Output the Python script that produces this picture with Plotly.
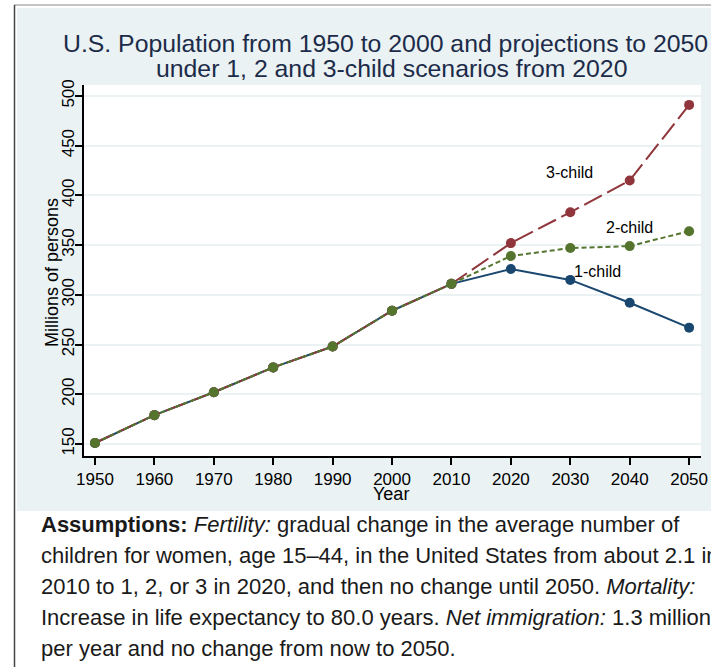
import plotly.graph_objects as go

# ---- data ----
years = [1950, 1960, 1970, 1980, 1990, 2000, 2010, 2020, 2030, 2040, 2050]
history = [151, 179, 202, 227, 248, 284, 311]
one_child_proj = [326, 315, 292, 267]
two_child_proj = [339, 347, 349, 364]
three_child_proj = [352, 383, 415, 491]
one_child = history + one_child_proj
two_child = history + two_child_proj
three_child = history + three_child_proj
x_ticks = [1950, 1960, 1970, 1980, 1990, 2000, 2010, 2020, 2030, 2040, 2050]
y_ticks = [150, 200, 250, 300, 350, 400, 450, 500]

NAVY = "#1A476F"
MAROON = "#90353B"
GREEN = "#55752F"
BG = "#EAF2F3"

# plot area in pixels
L, R, T, B = 84, 701, 85, 456
W, H = R - L, B - T


def px(x):
    return (x - L) / W


def py(y):
    return (B - y) / H


fig = go.Figure()

fig.add_trace(go.Scatter(x=years, y=one_child, mode="lines+markers", name="1-child",
                         line=dict(color=NAVY, width=2),
                         marker=dict(color=NAVY, size=10)))
fig.add_trace(go.Scatter(x=years, y=three_child, mode="lines+markers", name="3-child",
                         line=dict(color=MAROON, width=2, dash="20px,6px"),
                         marker=dict(color=MAROON, size=10)))
fig.add_trace(go.Scatter(x=years, y=two_child, mode="lines+markers", name="2-child",
                         line=dict(color=GREEN, width=2, dash="5px,3px"),
                         marker=dict(color=GREEN, size=10)))

shapes = [
    dict(type="rect", xref="paper", yref="paper", x0=px(17), x1=px(720), y0=py(8), y1=py(511),
         fillcolor=BG, line=dict(width=0), layer="below"),
    dict(type="rect", xref="paper", yref="paper", x0=px(L), x1=px(R), y0=py(T), y1=py(B),
         fillcolor="white", line=dict(width=0), layer="below"),
    dict(type="line", xref="paper", yref="paper", x0=px(14), x1=px(720), y0=py(5), y1=py(5),
         line=dict(color="#8a8a8a", width=1.2)),
    dict(type="line", xref="paper", yref="paper", x0=px(14.5), x1=px(14.5), y0=py(5), y1=py(670),
         line=dict(color="#444444", width=1.5)),
]

TXT = "Liberation Sans, Arial, Helvetica, sans-serif"
ann = []
# title
ann.append(dict(text="U.S. Population from 1950 to 2000 and projections to 2050",
                xref="paper", yref="paper", x=px(385), y=py(44), xanchor="center", yanchor="middle",
                showarrow=False, font=dict(size=24.8, color="#1C2B49", family=TXT)))
ann.append(dict(text="under 1, 2 and 3-child scenarios from 2020",
                xref="paper", yref="paper", x=px(391), y=py(69), xanchor="center", yanchor="middle",
                showarrow=False, font=dict(size=24.8, color="#1C2B49", family=TXT)))
# axis titles
ann.append(dict(text="Year", xref="paper", yref="paper", x=px(391), y=py(494),
                xanchor="center", yanchor="middle", showarrow=False,
                font=dict(size=18, color="black", family=TXT)))
ann.append(dict(text="Millions of persons", xref="paper", yref="paper", x=px(52), y=py(273),
                xanchor="center", yanchor="middle", textangle=-90, showarrow=False,
                font=dict(size=18, color="black", family=TXT)))
# series labels
for txt, xv, yv in [("3-child", 2029.8, 423.5), ("2-child", 2039.9, 368), ("1-child", 2034.5, 323)]:
    ann.append(dict(text=txt, x=xv, y=yv, xref="x", yref="y", showarrow=False,
                    xanchor="center", yanchor="middle",
                    font=dict(size=16, color="black", family=TXT)))
# assumptions note
note_lines = [
    "<b>Assumptions:</b> <i>Fertility:</i> gradual change in the average number of",
    "children for women, age 15\u201344, in the United States from about 2.1 in",
    "2010 to 1, 2, or 3 in 2020, and then no change until 2050. <i>Mortality:</i>",
    "Increase in life expectancy to 80.0 years. <i>Net immigration:</i> 1.3 million",
    "per year and no change from now to 2050.",
]
for i, line in enumerate(note_lines):
    ann.append(dict(text=line, xref="paper", yref="paper", x=px(39), y=py(524 + 31.2 * i),
                    xanchor="left", yanchor="middle", showarrow=False, align="left",
                    font=dict(size=22, color="#1a1a1a", family=TXT)))

fig.update_layout(
    width=711, height=667, autosize=False,
    margin=dict(l=L, r=711 - R, t=T, b=667 - B, pad=0, autoexpand=False),
    paper_bgcolor="white", plot_bgcolor="white",
    showlegend=False,
    shapes=shapes, annotations=ann,
    xaxis=dict(range=[1948.15, 2052.0], tickvals=x_ticks, ticks="outside", ticklen=7,
               tickwidth=2, tickcolor="black", showline=True, linecolor="black", linewidth=2,
               showgrid=False, zeroline=False, automargin=False,
               tickfont=dict(size=17, color="black", family=TXT)),
    yaxis=dict(range=[137.9, 511], tickvals=y_ticks, ticks="outside", ticklen=7,
               tickwidth=2, tickcolor="black", showline=True, linecolor="black", linewidth=2,
               showgrid=True, gridcolor=BG, gridwidth=2, zeroline=False, tickangle=-90,
               automargin=False, ticklabelstandoff=-6,
               tickfont=dict(size=17, color="black", family=TXT)),
)

fig.write_html("out.html", config={"displayModeBar": False},
               post_script="document.body.style.margin='0';document.body.style.padding='0';"
                           "document.body.style.overflow='hidden';")
